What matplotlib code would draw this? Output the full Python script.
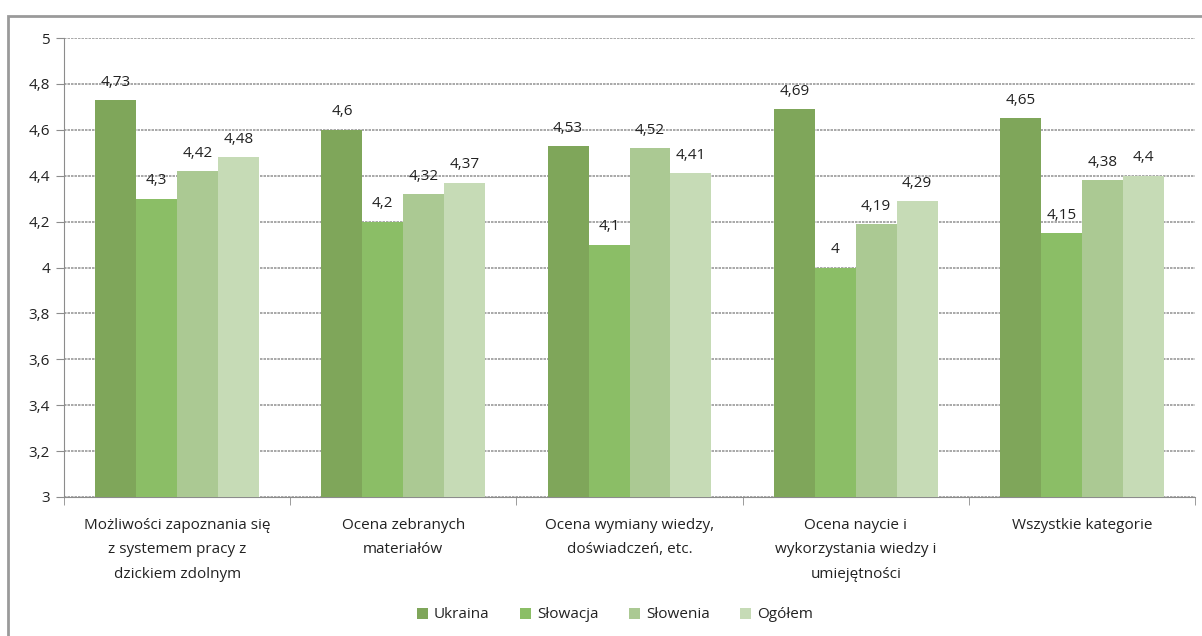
import matplotlib
matplotlib.use("Agg")
import matplotlib.pyplot as plt
import numpy as np
from matplotlib.patches import Rectangle

categories = ["Możliwości zapoznania się\nz systemem pracy z\ndzickiem zdolnym",
              "Ocena zebranych\nmateriałów",
              "Ocena wymiany wiedzy,\ndoświadczeń, etc.",
              "Ocena naycie i\nwykorzystania wiedzy i\numiejętności",
              "Wszystkie kategorie"]
series_names = ["Ukraina", "Słowacja", "Słowenia", "Ogółem"]
ukraina = [4.73, 4.6, 4.53, 4.69, 4.65]
slowacja = [4.3, 4.2, 4.1, 4.0, 4.15]
slowenia = [4.42, 4.32, 4.52, 4.19, 4.38]
ogolem = [4.48, 4.37, 4.41, 4.29, 4.4]
yticks = [3, 3.2, 3.4, 3.6, 3.8, 4, 4.2, 4.4, 4.6, 4.8, 5]

colors = ["#7FA65A", "#8BBE66", "#ABC993", "#C6DBB6"]

plt.rcParams['font.family'] = ['Open Sans', 'DejaVu Sans']

fig = plt.figure(figsize=(12.02, 6.36), dpi=100)
W, H = 1202, 636
ax = fig.add_axes([64 / W, 1 - 497 / H, (1195 - 64) / W, (497 - 38) / H])

x = np.arange(len(categories))
bw = 0.181
data = [ukraina, slowacja, slowenia, ogolem]

def fmt(v):
    s = f"{v:.2f}".rstrip('0').rstrip('.')
    return s.replace('.', ',')

fs = 11
for i, (vals, c, name) in enumerate(zip(data, colors, series_names)):
    pos = x + (i - 1.5) * bw
    ax.bar(pos, np.array(vals) - 3, bottom=3, width=bw, color=c, label=name, zorder=3)
    for p, v in zip(pos, vals):
        ax.text(p, v + 0.045, fmt(v), ha='center', va='bottom', fontsize=fs, color='#222222', zorder=4)

ax.set_xlim(-0.5, len(categories) - 0.5)
ax.set_ylim(3, 5)
ax.set_yticks(yticks)
ax.set_yticklabels([fmt(t) for t in yticks], fontsize=fs, color='#222222')
ax.yaxis.grid(True, color='#9a9a9a', linestyle=(0, (1.5, 0.6)), linewidth=1.2, zorder=0)
ax.set_axisbelow(True)
for s in ['top', 'right']:
    ax.spines[s].set_visible(False)
ax.spines['left'].set_color('#8c8c8c')
ax.spines['bottom'].set_color('#8c8c8c')
ax.tick_params(axis='y', length=6, color='#8c8c8c', pad=4)
ax.set_xticks(np.arange(len(categories) + 1) - 0.5, minor=True)
ax.set_xticks(x)
ax.set_xticklabels(categories, fontsize=fs, color='#222222', linespacing=1.85)
ax.tick_params(axis='x', which='major', length=0, pad=15)
ax.tick_params(axis='x', which='minor', length=6, color='#8c8c8c', direction='out')

leg = fig.legend(loc='center', bbox_to_anchor=(615 / W, 1 - 615 / H), ncol=4, frameon=False,
                 fontsize=fs, handlelength=0.7, handleheight=0.7, columnspacing=2.0, handletextpad=0.4)
for t in leg.get_texts():
    t.set_color('#222222')

fig.patches.append(Rectangle((8 / W, -0.1), 1.2, 1 - 16 / H + 0.1, transform=fig.transFigure,
                             fill=False, edgecolor='#9a9a9a', linewidth=2))

fig.savefig("out.png", dpi=100)
